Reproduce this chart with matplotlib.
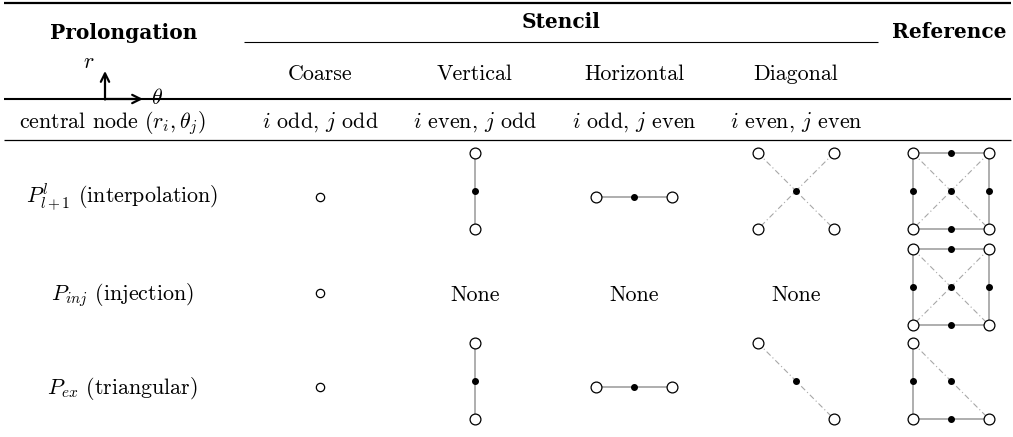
"""Prolongation stencil table drawn as a figure, saved to out.png."""
import matplotlib
matplotlib.use("Agg")
import matplotlib.pyplot as plt

plt.rcParams["mathtext.fontset"] = "cm"
plt.rcParams["font.family"] = "cmr10"
plt.rcParams["axes.unicode_minus"] = False

# table content
columns = ["Coarse", "Vertical", "Horizontal", "Diagonal"]
parity = [r"$i$ odd, $j$ odd", r"$i$ even, $j$ odd",
          r"$i$ odd, $j$ even", r"$i$ even, $j$ even"]
rows = [r"$P^l_{l+1}$ (interpolation)", r"$P_{inj}$ (injection)",
        r"$P_{ex}$ (triangular)"]

# stencils in unit offsets: (coarse nodes, fine nodes, solid edges, dash-dot edges)
COARSE = ([(0, 0)], [], [], [])
VERTICAL = ([(0, 1), (0, -1)], [(0, 0)], [((0, 1), (0, -1))], [])
HORIZONTAL = ([(-1, 0), (1, 0)], [(0, 0)], [((-1, 0), (1, 0))], [])
CROSS = ([(-1, 1), (1, 1), (-1, -1), (1, -1)], [(0, 0)], [],
         [((-1, 1), (1, -1)), ((1, 1), (-1, -1))])
DIAG = ([(-1, 1), (1, -1)], [(0, 0)], [], [((-1, 1), (1, -1))])
SQUARE = ([(-1, 1), (1, 1), (-1, -1), (1, -1)],
          [(0, 1), (0, -1), (-1, 0), (1, 0), (0, 0)],
          [((-1, 1), (1, 1)), ((-1, -1), (1, -1)),
           ((-1, 1), (-1, -1)), ((1, 1), (1, -1))],
          [((-1, 1), (1, -1)), ((1, 1), (-1, -1))])
TRIANGLE = ([(-1, 1), (-1, -1), (1, -1)],
            [(-1, 0), (0, -1), (0, 0)],
            [((-1, 1), (-1, -1)), ((-1, -1), (1, -1))],
            [((-1, 1), (1, -1))])

cells = [
    [COARSE, VERTICAL, HORIZONTAL, CROSS, SQUARE],
    [COARSE, "None", "None", "None", SQUARE],
    [COARSE, VERTICAL, HORIZONTAL, DIAG, TRIANGLE],
]

# layout (pixels)
W, H = 1013, 437
col_x = [320, 475, 634, 796, 951]
row_y = [197, 293, 387]
HALF = 38
GRAY = "#a8a8a8"
FS = 15.8
BOLD = dict(family="DejaVu Serif", fontweight="bold", fontsize=14.5,
            ha="center", va="baseline")

fig = plt.figure(figsize=(W / 100, H / 100), dpi=100)
ax = fig.add_axes([0, 0, 1, 1])
ax.set_xlim(0, W)
ax.set_ylim(H, 0)
ax.axis("off")

# rules
ax.hlines(2.5, 4, W - 2, color="black", lw=1.6)
ax.hlines(41.5, 244, 878, color="black", lw=0.8)
ax.hlines(98.5, 4, W - 2, color="black", lw=1.5)
ax.hlines(139.5, 4, W - 2, color="black", lw=0.9)

# header
ax.text(124, 39, "Prolongation", **BOLD)
ax.text(561, 28, "Stencil", **BOLD)
ax.text(949, 38, "Reference", **BOLD)
for x, name, par in zip(col_x, columns, parity):
    ax.text(x, 80, name, fontsize=FS, ha="center", va="baseline")
    ax.text(x, 128, par, fontsize=FS, ha="center", va="baseline")
ax.text(112, 128, r"central node $(r_i, \theta_j)$", fontsize=FS,
        ha="center", va="baseline")

# r / theta axes glyph
arrow = dict(arrowstyle="->", lw=1.6, color="black", shrinkA=0, shrinkB=0,
             mutation_scale=15)
ax.annotate("", xy=(105, 71), xytext=(105, 99.5), arrowprops=arrow)
ax.annotate("", xy=(143, 99), xytext=(104.5, 99), arrowprops=arrow)
ax.text(89, 68, r"$r$", fontsize=FS, ha="center", va="baseline")
ax.text(157, 104, r"$\theta$", fontsize=FS, ha="center", va="baseline")

# rows
for y, label, cell_row in zip(row_y, rows, cells):
    ax.text(122, y + 7, label, fontsize=FS, ha="center", va="baseline")
    for x, cell in zip(col_x, cell_row):
        if cell == "None":
            ax.text(x, y + 8, "None", fontsize=FS, ha="center", va="baseline")
            continue
        coarse, fine, solid, dashed = cell
        cy = y if cell in (COARSE, HORIZONTAL) else y - 6
        px = lambda p: (x + p[0] * HALF, cy - p[1] * HALF)
        for a, b in solid:
            (x0, y0), (x1, y1) = px(a), px(b)
            ax.plot([x0, x1], [y0, y1], color=GRAY, lw=1.3, zorder=1)
        for a, b in dashed:
            (x0, y0), (x1, y1) = px(a), px(b)
            ax.plot([x0, x1], [y0, y1], color=GRAY, lw=0.8, zorder=1,
                    dashes=(5, 2.5, 1, 2.5))
        if fine:
            fx, fy = zip(*[px(p) for p in fine])
            ax.plot(fx, fy, "o", color="black", ms=4, zorder=3)
        cx, cyy = zip(*[px(p) for p in coarse])
        ax.plot(cx, cyy, "o", mfc="white", mec="black", mew=0.9,
                ms=6 if cell is COARSE else 7.8, zorder=4)

fig.savefig("out.png", dpi=100, facecolor="white")
